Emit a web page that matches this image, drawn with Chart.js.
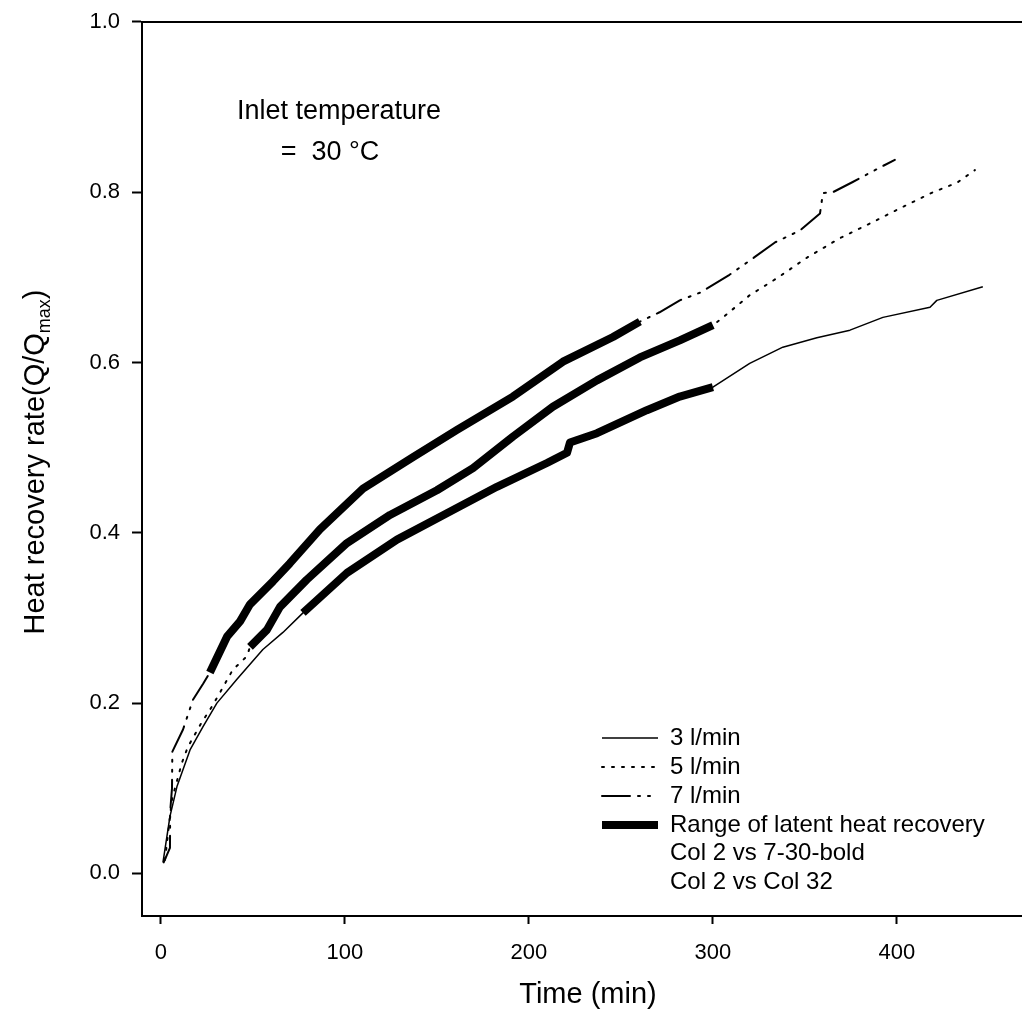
<!DOCTYPE html>
<html>
<head>
<meta charset="utf-8">
<script src="https://cdn.jsdelivr.net/npm/chart.js@4.4.1/dist/chart.umd.min.js"></script>
<style>
  body { margin: 0; background: #fff; }
  canvas { display: block; }
</style>
</head>
<body>
<canvas id="recoveryChart" width="1022" height="1014"></canvas>
<script>
// values: time (min) and heat recovery rate (Q/Qmax)
const time3 = [1.1, 4.9, 8.7, 15.8, 22.8, 30.4, 41.3, 55.4, 66.3, 77.2, 101.1, 128.3, 155.4, 182.6, 209.8, 220.7, 222.3, 237.0, 264.1, 282.0, 300.0, 320.0, 338.0, 356.5, 374.5, 392.4, 418.0, 421.7, 446.7];
const rate3 = [0.013, 0.067, 0.102, 0.145, 0.172, 0.200, 0.228, 0.263, 0.283, 0.306, 0.353, 0.392, 0.423, 0.454, 0.482, 0.494, 0.506, 0.517, 0.544, 0.560, 0.571, 0.599, 0.618, 0.629, 0.638, 0.653, 0.665, 0.673, 0.689];

const time5 = [2.2, 6.0, 11.4, 14.7, 22.3, 26.6, 32.0, 39.0, 46.7, 48.4, 57.6, 64.7, 79.3, 101.1, 124.5, 150.0, 169.6, 191.3, 213.0, 237.0, 260.3, 282.0, 300.0, 303.8, 320.0, 334.8, 351.0, 369.0, 387.0, 401.6, 419.6, 432.6, 442.4];
const rate5 = [0.016, 0.087, 0.130, 0.149, 0.178, 0.192, 0.212, 0.239, 0.255, 0.266, 0.286, 0.313, 0.345, 0.388, 0.421, 0.450, 0.476, 0.513, 0.548, 0.579, 0.606, 0.626, 0.644, 0.650, 0.679, 0.699, 0.723, 0.746, 0.765, 0.781, 0.800, 0.811, 0.826];

const time7 = [1.5, 4.9, 5.0, 6.0, 6.2, 12.0, 17.4, 23.0, 26.6, 35.9, 43.0, 48.4, 60.9, 70.0, 86.4, 109.8, 137.0, 160.9, 191.3, 218.5, 245.7, 260.3, 271.0, 282.0, 293.0, 309.0, 322.8, 333.7, 347.3, 358.2, 359.8, 365.2, 376.0, 390.8, 398.9];
const rate7 = [0.013, 0.030, 0.072, 0.100, 0.143, 0.169, 0.204, 0.223, 0.236, 0.278, 0.296, 0.316, 0.343, 0.364, 0.404, 0.452, 0.489, 0.521, 0.560, 0.601, 0.630, 0.648, 0.659, 0.673, 0.682, 0.703, 0.724, 0.741, 0.755, 0.775, 0.799, 0.800, 0.812, 0.829, 0.838];

// time span of latent heat recovery (bold part) for each flow rate
const boldRange3 = [77.2, 300.0];
const boldRange5 = [48.4, 300.0];
const boldRange7 = [26.6, 260.3];

const seriesLabels = ["3 l/min", "5 l/min", "7 l/min", "Range of latent heat recovery", "Col 2 vs 7-30-bold", "Col 2 vs Col 32"];
const xTicks = [0, 100, 200, 300, 400];
const yTicks = [0, 0.2, 0.4, 0.6, 0.8, 1.0];

const FONT = "'Liberation Sans', Arial, Helvetica, sans-serif";
const dash5 = [2, 8];
const dash7 = [28, 8, 2, 8, 2, 8];

function points(ts, vs) {
  return ts.map((t, i) => ({ x: t, y: vs[i] }));
}
function boldPart(ts, vs, range) {
  return points(ts, vs).filter(p => p.x >= range[0] && p.x <= range[1]);
}

function lineSet(label, data, width, dash) {
  return {
    label: label,
    data: data,
    borderColor: "#000",
    borderWidth: width,
    borderDash: dash,
    borderCapStyle: dash.length ? "round" : "butt",
    borderJoinStyle: "round",
    pointRadius: 0,
    fill: false,
    tension: 0,
  };
}

// Axis titles, annotation, top frame and the legend inside the plot
const decorPlugin = {
  id: "decor",
  afterDraw(chart) {
    const ctx = chart.ctx;
    const area = chart.chartArea;
    ctx.save();
    ctx.strokeStyle = "#000";
    ctx.lineWidth = 2;
    ctx.beginPath();
    ctx.moveTo(area.left, area.top);
    ctx.lineTo(chart.width, area.top);
    ctx.stroke();

    ctx.fillStyle = "#000";
    ctx.textBaseline = "middle";

    // x title
    ctx.font = "29px " + FONT;
    ctx.textAlign = "center";
    ctx.fillText("Time (min)", 588, 995);

    // y title with subscript
    ctx.save();
    ctx.translate(36, 462);
    ctx.rotate(-Math.PI / 2);
    const main = "Heat recovery rate(Q/Q";
    ctx.font = "29px " + FONT;
    const wMain = ctx.measureText(main).width;
    ctx.font = "18px " + FONT;
    const wSub = ctx.measureText("max").width;
    ctx.font = "29px " + FONT;
    const wEnd = ctx.measureText(")").width;
    let x0 = -(wMain + wSub + wEnd) / 2;
    ctx.textAlign = "left";
    ctx.fillText(main, x0, 0);
    ctx.font = "18px " + FONT;
    ctx.fillText("max", x0 + wMain, 9);
    ctx.font = "29px " + FONT;
    ctx.fillText(")", x0 + wMain + wSub, 0);
    ctx.restore();

    // annotation
    ctx.font = "27px " + FONT;
    ctx.textAlign = "center";
    ctx.fillText("Inlet temperature", 339, 112);
    ctx.fillText("=  30 \u00B0C", 330, 153);

    // legend
    const rowY = [738, 767, 796, 825, 853, 882];
    const styles = [
      { w: 1.5, dash: [] },
      { w: 2, dash: dash5 },
      { w: 2, dash: dash7 },
      { w: 8, dash: [] },
      null,
      null,
    ];
    ctx.textAlign = "left";
    ctx.font = "24px " + FONT;
    seriesLabels.forEach((lab, i) => {
      const s = styles[i];
      if (s) {
        ctx.beginPath();
        ctx.lineWidth = s.w;
        ctx.setLineDash(s.dash);
        ctx.lineCap = s.dash.length ? "round" : "butt";
        ctx.moveTo(602, rowY[i]);
        ctx.lineTo(658, rowY[i]);
        ctx.stroke();
        ctx.setLineDash([]);
      }
      ctx.fillText(lab, 670, rowY[i]);
    });
    ctx.restore();
  },
};

const ctx = document.getElementById("recoveryChart").getContext("2d");
new Chart(ctx, {
  type: "line",
  data: {
    datasets: [
      lineSet(seriesLabels[0], points(time3, rate3), 1.5, []),
      lineSet(seriesLabels[1], points(time5, rate5), 2, dash5),
      lineSet(seriesLabels[2], points(time7, rate7), 2, dash7),
      lineSet(seriesLabels[3], boldPart(time3, rate3, boldRange3), 8, []),
      lineSet(seriesLabels[3], boldPart(time5, rate5, boldRange5), 8, []),
      lineSet(seriesLabels[3], boldPart(time7, rate7, boldRange7), 8, []),
    ],
  },
  options: {
    responsive: false,
    animation: false,
    layout: { padding: { top: 19, right: 0, left: 0, bottom: 0 } },
    plugins: {
      legend: { display: false },
      tooltip: { enabled: false },
    },
    scales: {
      x: {
        type: "linear",
        min: -10.3,
        max: 468,
        afterBuildTicks: (scale) => { scale.ticks = xTicks.map(v => ({ value: v })); },
        afterFit: (scale) => { scale.height = 98; },
        grid: { drawOnChartArea: false, drawTicks: true, tickLength: 8, tickWidth: 2, color: "#000" },
        border: { display: true, color: "#000", width: 2 },
        ticks: { color: "#000", padding: 16, maxRotation: 0, font: { family: FONT, size: 22 } },
      },
      y: {
        type: "linear",
        min: -0.05,
        max: 1.0,
        afterBuildTicks: (scale) => { scale.ticks = yTicks.map(v => ({ value: v })); },
        afterFit: (scale) => { scale.width = 142; },
        grid: { drawOnChartArea: false, drawTicks: true, tickLength: 10, tickWidth: 2, color: "#000" },
        border: { display: true, color: "#000", width: 2 },
        ticks: {
          color: "#000",
          padding: 12,
          font: { family: FONT, size: 22, lineHeight: 0.9 },
          callback: (v) => Number(v).toFixed(1),
        },
      },
    },
  },
  plugins: [decorPlugin],
});
</script>
</body>
</html>
